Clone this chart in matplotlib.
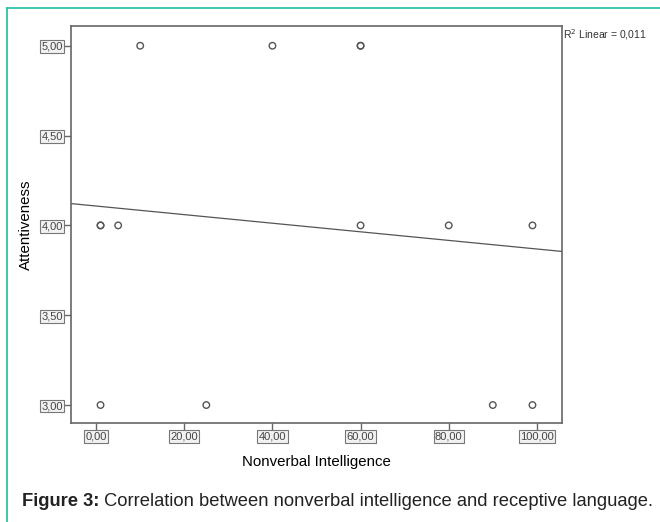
import numpy as np
import matplotlib
matplotlib.use("Agg")
import matplotlib.pyplot as plt
from matplotlib.lines import Line2D

# data
nonverbal = [1, 1, 5, 60, 80, 99, 10, 40, 60, 60, 1, 25, 90, 99]
attentiveness = [4, 4, 4, 4, 4, 4, 5, 5, 5, 5, 3, 3, 3, 3]
x_ticks = [0, 20, 40, 60, 80, 100]
y_ticks = [3.0, 3.5, 4.0, 4.5, 5.0]
r2_text = "R$^2$ Linear = 0,011"
caption_bold = "Figure 3:"
caption_rest = " Correlation between nonverbal intelligence and receptive language."

plt.rcParams['font.family'] = ['Liberation Sans', 'DejaVu Sans']

fig = plt.figure(figsize=(6.6, 5.22), dpi=100)

# teal frame around the figure (top and left edges)
teal = "#2cc4a8"
fig.add_artist(Line2D([7/660, 1], [1 - 8/522, 1 - 8/522], color=teal, lw=1.3, transform=fig.transFigure))
fig.add_artist(Line2D([7/660, 7/660], [0, 1 - 8/522], color=teal, lw=1.3, transform=fig.transFigure))

ax = fig.add_axes([71/660, 1 - 423/522, 491/660, 397/522])
ax.set_xlim(-5.7, 105.7)
ax.set_ylim(2.9, 5.11)

ax.scatter(nonverbal, attentiveness, s=22, facecolors="none", edgecolors="#555555", linewidths=1.0, zorder=3)

# least squares fit line across the whole axis
slope, intercept = np.polyfit(nonverbal, attentiveness, 1)
xs = np.array(ax.get_xlim())
ax.plot(xs, intercept + slope * xs, color="#555555", lw=0.9)

for s in ax.spines.values():
    s.set_color("#666666")
    s.set_linewidth(1.2)

box = dict(boxstyle="square,pad=0.12", fc="#f2f2f2", ec="#777777", lw=0.8)
ax.set_xticks(x_ticks)
ax.set_xticklabels([f"{v:.2f}".replace(".", ",") for v in x_ticks], fontsize=8, bbox=box, color="#444444")
ax.set_yticks(y_ticks)
ax.set_yticklabels([f"{v:.2f}".replace(".", ",") for v in y_ticks], fontsize=8, bbox=box, color="#444444")
ax.tick_params(direction="out", length=5, width=1, color="#666666", pad=1)

ax.set_xlabel("Nonverbal Intelligence", fontsize=10.8, labelpad=10)
ax.set_ylabel("Attentiveness", fontsize=10.8, labelpad=6)

fig.text(563/660, 1 - 35/522, r2_text, fontsize=7.5, va="center", ha="left", color="#333333")

t = fig.text(22/660, 1 - 502/522, caption_bold, fontsize=13.2, fontweight="bold", va="center", color="#222222")
fig.canvas.draw()
bb = t.get_window_extent()
fig.text(bb.x1 / fig.bbox.width, 1 - 502/522, caption_rest, fontsize=13.2, va="center", color="#222222")

fig.savefig("out.png", dpi=100)
